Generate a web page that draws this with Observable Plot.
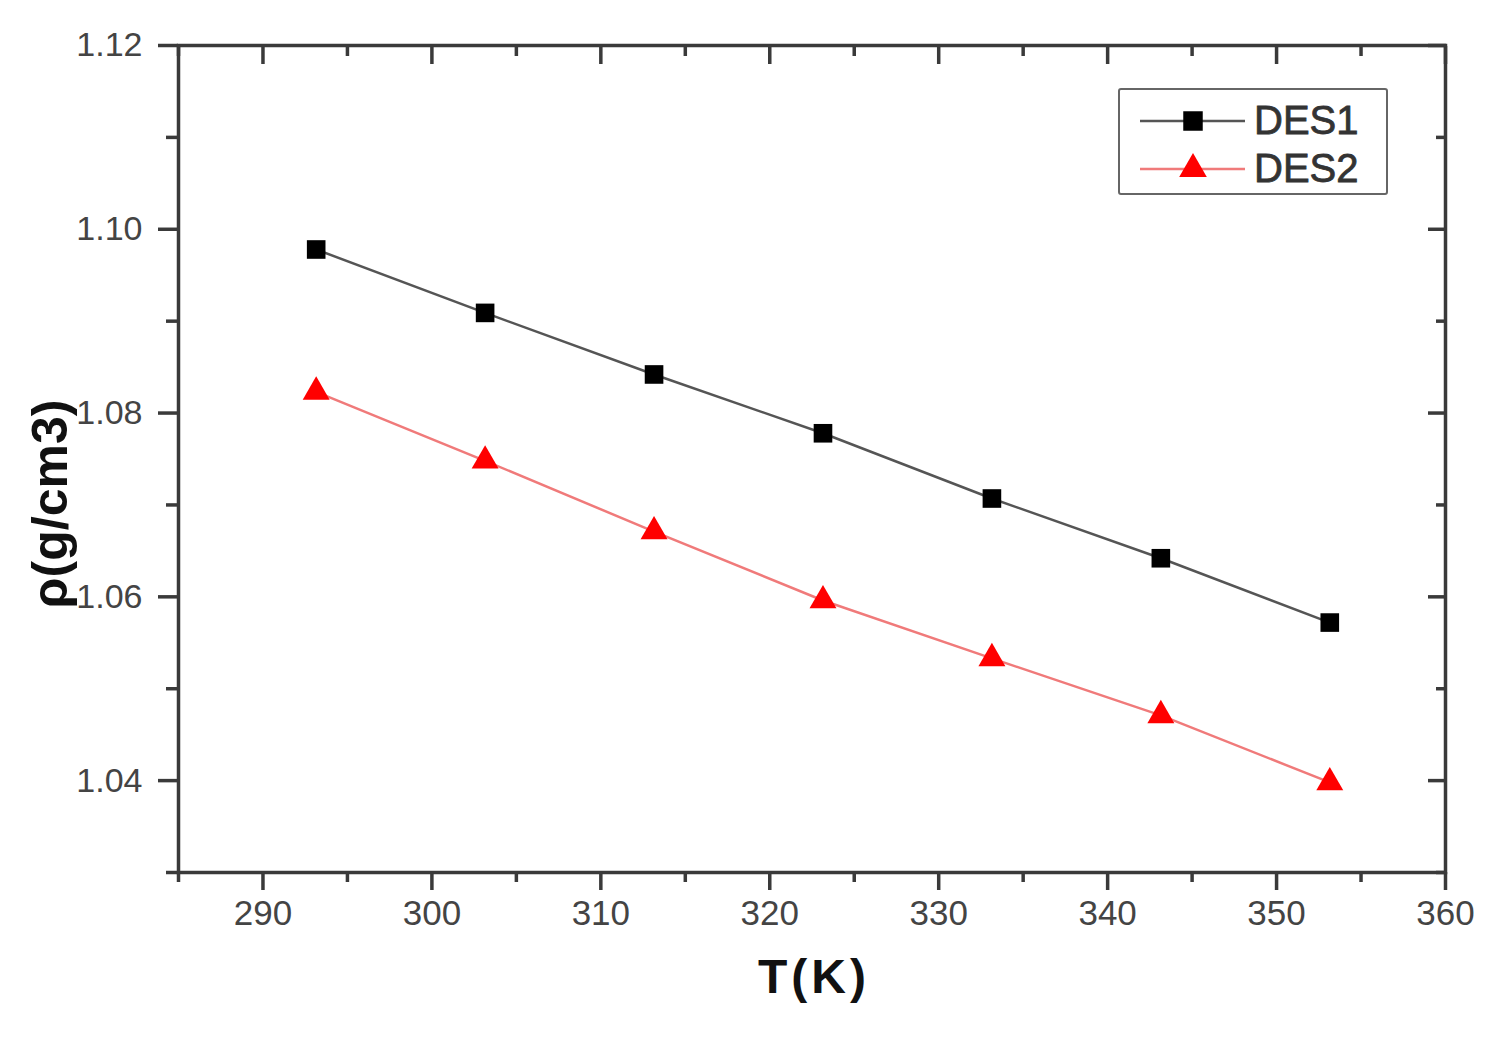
<!DOCTYPE html>
<html><head><meta charset="utf-8">
<script src="https://cdn.jsdelivr.net/npm/d3@7"></script>
<script src="https://cdn.jsdelivr.net/npm/@observablehq/plot@0.6"></script>
<style>
body{margin:0;background:#fff;font-family:"Liberation Sans",Arial,sans-serif;}
#wrap{position:relative;width:1507px;height:1042px;}
#legend{position:absolute;left:1118px;top:88px;width:270px;height:107px;border:2.5px solid #666;border-radius:3px;box-sizing:border-box;background:#fff;}
#legend svg{display:block}
</style></head><body><div id="wrap"></div>
<script>
const temperatures = [293.15, 303.15, 313.15, 323.15, 333.15, 343.15, 353.15];
const des1 = [1.0978, 1.0909, 1.0842, 1.0778, 1.0707, 1.0642, 1.0572];
const des2 = [1.0823, 1.0748, 1.0671, 1.0596, 1.0533, 1.0471, 1.0398];
const seriesNames = ["DES1", "DES2"];
const seriesColors = ["#555555", "#f07a7a"];
const markerColors = ["#000000", "#ff0000"];
const xTicks = [290, 300, 310, 320, 330, 340, 350, 360];
const xMinor = [285, 295, 305, 315, 325, 335, 345, 355];
const yTicks = [1.04, 1.06, 1.08, 1.10, 1.12];
const yMinor = [1.03, 1.05, 1.07, 1.09, 1.11];
const xLabel = "T(K)";
const yLabel = "ρ(g/cm3)";

const rows = [];
temperatures.forEach((t, i) => {
  rows.push({T: t, rho: des1[i], s: seriesNames[0]});
  rows.push({T: t, rho: des2[i], s: seriesNames[1]});
});
const r1 = rows.filter(d => d.s === seriesNames[0]);
const r2 = rows.filter(d => d.s === seriesNames[1]);
const blank = () => "";
const axColor = "#3a3a3a";

const chart = Plot.plot({
  width: 1507, height: 1042,
  marginLeft: 178, marginRight: 62, marginTop: 45, marginBottom: 170,
  style: {fontFamily: '"Liberation Sans", Arial, sans-serif', color: axColor, background: "#fff"},
  x: {domain: [285, 360], label: null},
  y: {domain: [1.03, 1.12], label: null},
  marks: [
    Plot.frame({stroke: axColor, strokeWidth: 3.5}),
    // bottom axis
    Plot.axisX(xTicks, {anchor: "bottom", tickSize: 18, tickPadding: 10, fontSize: 35, fill: "#444", strokeWidth: 3.5, label: null, tickFormat: d => d}),
    Plot.axisX(xMinor, {anchor: "bottom", tickSize: 10, strokeWidth: 3.5, label: null, tickFormat: blank}),
    // top axis (inward)
    Plot.axisX(xTicks, {anchor: "top", tickSize: 18, dy: 18, strokeWidth: 3.5, label: null, tickFormat: blank}),
    Plot.axisX(xMinor, {anchor: "top", tickSize: 10, dy: 10, strokeWidth: 3.5, label: null, tickFormat: blank}),
    // left axis
    Plot.axisY(yTicks, {anchor: "left", tickSize: 20, tickPadding: 16, fontSize: 34, fill: "#444", strokeWidth: 3.5, label: null, tickFormat: d3.format(".2f")}),
    Plot.axisY(yMinor, {anchor: "left", tickSize: 12, strokeWidth: 3.5, label: null, tickFormat: blank}),
    // right axis (inward)
    Plot.axisY(yTicks, {anchor: "right", tickSize: 18, dx: -18, strokeWidth: 3.5, label: null, tickFormat: blank}),
    Plot.axisY(yMinor, {anchor: "right", tickSize: 10, dx: -10, strokeWidth: 3.5, label: null, tickFormat: blank}),
    Plot.line(r1, {x: "T", y: "rho", stroke: seriesColors[0], strokeWidth: 2.5}),
    Plot.line(r2, {x: "T", y: "rho", stroke: seriesColors[1], strokeWidth: 2.5}),
    Plot.dot(r1, {x: "T", y: "rho", symbol: "square", r: 10.5, fill: markerColors[0], stroke: "none"}),
    Plot.dot(r2, {x: "T", y: "rho", symbol: "triangle", r: 10, fill: markerColors[1], stroke: "none"}),
    Plot.text([xLabel], {frameAnchor: "bottom", lineAnchor: "middle", textAnchor: "middle", dy: 105, dx: 2, fontSize: 48, fontWeight: "bold", fill: "#111", className: "xlab"}),
    Plot.text([yLabel], {frameAnchor: "left", lineAnchor: "middle", textAnchor: "middle", dx: -128, dy: 45, rotate: -90, fontSize: 50, fontWeight: "bold", fill: "#111"})
  ]
});
d3.select(chart).selectAll(".xlab text").style("letter-spacing", "4px");
const wrap = document.getElementById("wrap");
wrap.appendChild(chart);

// legend
const leg = document.createElement("div");
leg.id = "legend";
const lsvg = d3.create("svg").attr("width", 265).attr("height", 102);
seriesNames.forEach((name, i) => {
  const cy = 31 + i * 48;
  lsvg.append("line").attr("x1", 20).attr("x2", 125).attr("y1", cy).attr("y2", cy)
    .attr("stroke", seriesColors[i]).attr("stroke-width", 2.5);
  const sym = d3.symbol(i === 0 ? d3.symbolSquare : d3.symbolTriangle, i === 0 ? 380 : 330);
  lsvg.append("path").attr("d", sym()).attr("transform", `translate(73,${cy})`).attr("fill", markerColors[i]);
  lsvg.append("text").attr("x", 134).attr("y", cy + 13).attr("font-size", 40)
    .attr("font-family", '"Liberation Sans", Arial, sans-serif').attr("fill", "#333")
    .attr("stroke", "#333").attr("stroke-width", 0.8).text(name);
});
leg.appendChild(lsvg.node());
wrap.appendChild(leg);
</script>
</body></html>
